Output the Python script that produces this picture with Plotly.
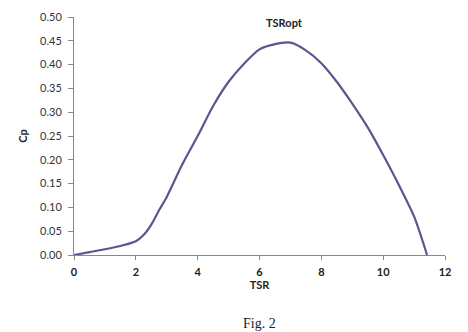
import plotly.graph_objects as go

tsr = [0, 0.5, 1, 1.5, 2, 2.25, 2.5, 2.75, 3, 3.5, 4, 4.5, 5, 5.5, 6, 6.5, 7, 7.5, 8, 8.5, 9, 9.5, 10, 10.5, 11, 11.42]
cp = [0, 0.006, 0.012, 0.019, 0.029, 0.042, 0.064, 0.094, 0.122, 0.19, 0.25, 0.313, 0.364, 0.402, 0.432, 0.443, 0.446, 0.43, 0.403, 0.364, 0.318, 0.268, 0.21, 0.148, 0.081, 0.0]

x_ticks = [0, 2, 4, 6, 8, 10, 12]
y_ticks = [0, 0.05, 0.10, 0.15, 0.20, 0.25, 0.30, 0.35, 0.40, 0.45, 0.50]

fig = go.Figure()
fig.add_trace(go.Scatter(
    x=tsr, y=cp, mode="lines",
    line=dict(color="#5a5690", width=2.2, shape="spline", smoothing=0.7),
    showlegend=False, hoverinfo="skip"))

font = "Lato, 'Open Sans', sans-serif"
fig.update_layout(
    width=468, height=332,
    margin=dict(l=74, r=23, t=10, b=77),
    paper_bgcolor="white", plot_bgcolor="white",
    font=dict(family=font, size=11, color="#222"),
    xaxis=dict(range=[0, 12], tickvals=x_ticks, ticktext=[str(v) for v in x_ticks],
               showgrid=False, zeroline=False, showline=True, linecolor="#888", linewidth=1,
               ticks="outside", ticklen=4, tickcolor="#888", ticklabelstandoff=3,
               tickfont=dict(family=font, size=11, color="#222", weight="bold"),
               title=dict(text="<b>TSR</b>", font=dict(family=font, size=11, color="#222"), standoff=4)),
    yaxis=dict(range=[0, 0.5], tickvals=y_ticks, ticktext=[f"{v:.2f}" for v in y_ticks],
               showgrid=False, zeroline=False, showline=True, linecolor="#888", linewidth=1,
               ticks="outside", ticklen=5, tickcolor="#888", ticklabelstandoff=4,
               tickfont=dict(family=font, size=11, color="#333"),
               title=dict(text="<b>Cp</b>", font=dict(family=font, size=11, color="#222"), standoff=10)),
    annotations=[
        dict(text="<b>TSRopt</b>", x=6.8, y=0.488, xref="x", yref="y", showarrow=False,
             font=dict(family=font, size=11, color="#222")),
        dict(text="Fig. 2", x=0.5, y=0, xref="paper", yref="paper", yshift=-68, showarrow=False,
             xanchor="center", yanchor="middle",
             font=dict(family="'Liberation Serif', 'DejaVu Serif', serif", size=14, color="#222")),
    ],
)

fig.write_html("out.html")
